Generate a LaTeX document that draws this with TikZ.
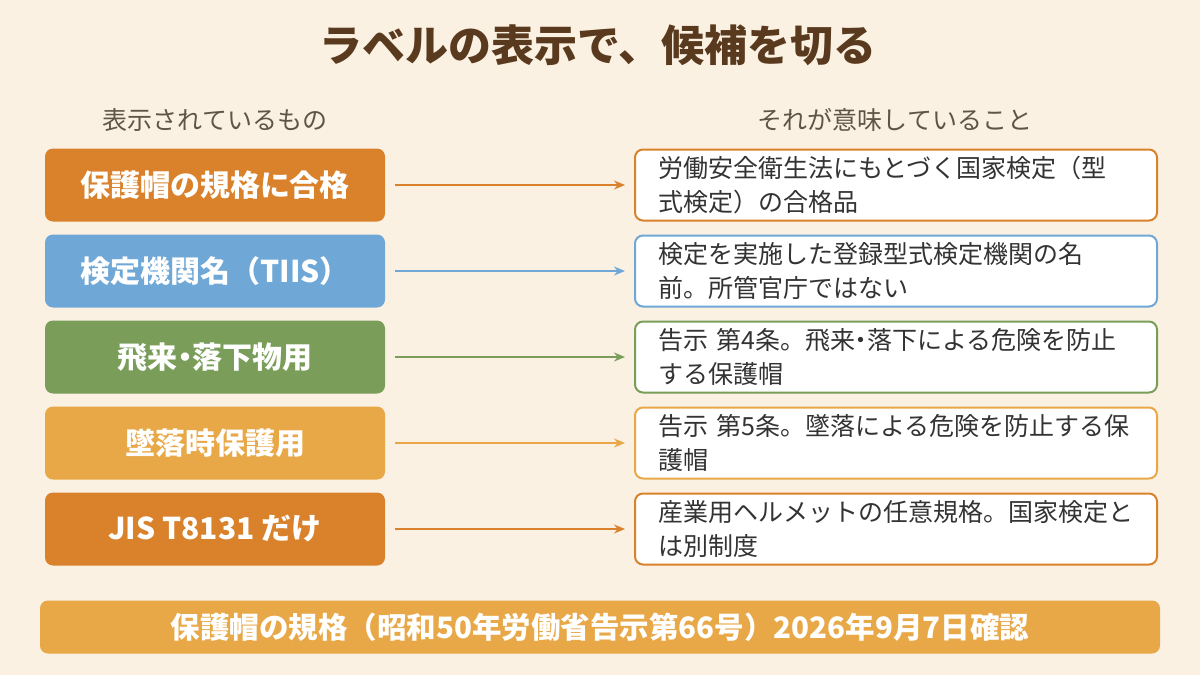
\documentclass[tikz,border=0pt]{standalone}
\usepackage{fontspec}
\setmainfont{Noto Sans CJK JP}
\usetikzlibrary{arrows.meta}
\definecolor{bg}{HTML}{FAF1E3}
\definecolor{ttl}{HTML}{5A3A1E}
\definecolor{hdr}{HTML}{5F5448}
\definecolor{co}{HTML}{D9822B}
\definecolor{cb}{HTML}{6FA8D6}
\definecolor{cg}{HTML}{7A9E5A}
\definecolor{cl}{HTML}{E8A847}
\definecolor{txt}{HTML}{333333}
\begin{document}
\begin{tikzpicture}[x=1pt,y=-1pt,
  lbox/.style={rounded corners=8pt,fill=#1,draw=none,minimum width=340pt,minimum height=73pt,text=white,font=\bfseries\fontsize{30}{34}\selectfont},
  rbox/.style={rounded corners=8pt,fill=white,draw=#1,line width=2pt,minimum width=522pt,minimum height=71pt,inner xsep=0pt,text=txt,align=left,text width=476pt,font=\fontsize{25}{34}\selectfont},
  arr/.style={draw=#1,line width=1.8pt,-{Stealth[length=11pt,width=9pt]}}]
\fill[bg] (0,0) rectangle (1200,675);
\useasboundingbox (0,0) rectangle (1200,675);
\node[text=ttl,font=\bfseries\fontsize{43}{48}\selectfont] (title) at (598,45) {ラベルの表示で、候補を切る};
\node[text=hdr,font=\fontsize{25}{29}\selectfont] (h1) at (215,120) {表示されているもの};
\node[text=hdr,font=\fontsize{25}{29}\selectfont] (h2) at (895,120) {それが意味していること};
\foreach \i/\y/\c/\l/\r in {
 1/185/co/保護帽の規格に合格/{労働安全衛生法にもとづく国家検定（型\\式検定）の合格品},
 2/271/cb/検定機関名（TIIS）/{検定を実施した登録型式検定機関の名\\前。所管官庁ではない},
 3/357/cg/飛来{\hspace{-0.25em}・\hspace{-0.25em}}落下物用/{告示\ 第4条。飛来{\hspace{-0.25em}・\hspace{-0.25em}}落下による危険を防止\\する保護帽},
 4/443/cl/墜落時保護用/{告示\ 第5条。墜落による危険を防止する保\\護帽},
 5/529/co/JIS\ T8131 だけ/{産業用ヘルメットの任意規格。国家検定と\\は別制度}}{
 \node[lbox=\c] (L\i) at (215,\y) {\l};
 \node[rbox=\c] (R\i) at (896,\y) {\r};
 \coordinate (a\i) at (395,\y);
 \coordinate (b\i) at (625,\y);
 \draw[arr=\c] (a\i) -- (b\i);
}
\node[rounded corners=8pt,fill=cl,minimum width=1120pt,minimum height=53pt,text=white,font=\bfseries\fontsize{29.5}{33}\selectfont] (foot) at (600,627) {保護帽の規格（昭和50年労働省告示第66号）2026年9月7日確認};
\end{tikzpicture}
\end{document}
